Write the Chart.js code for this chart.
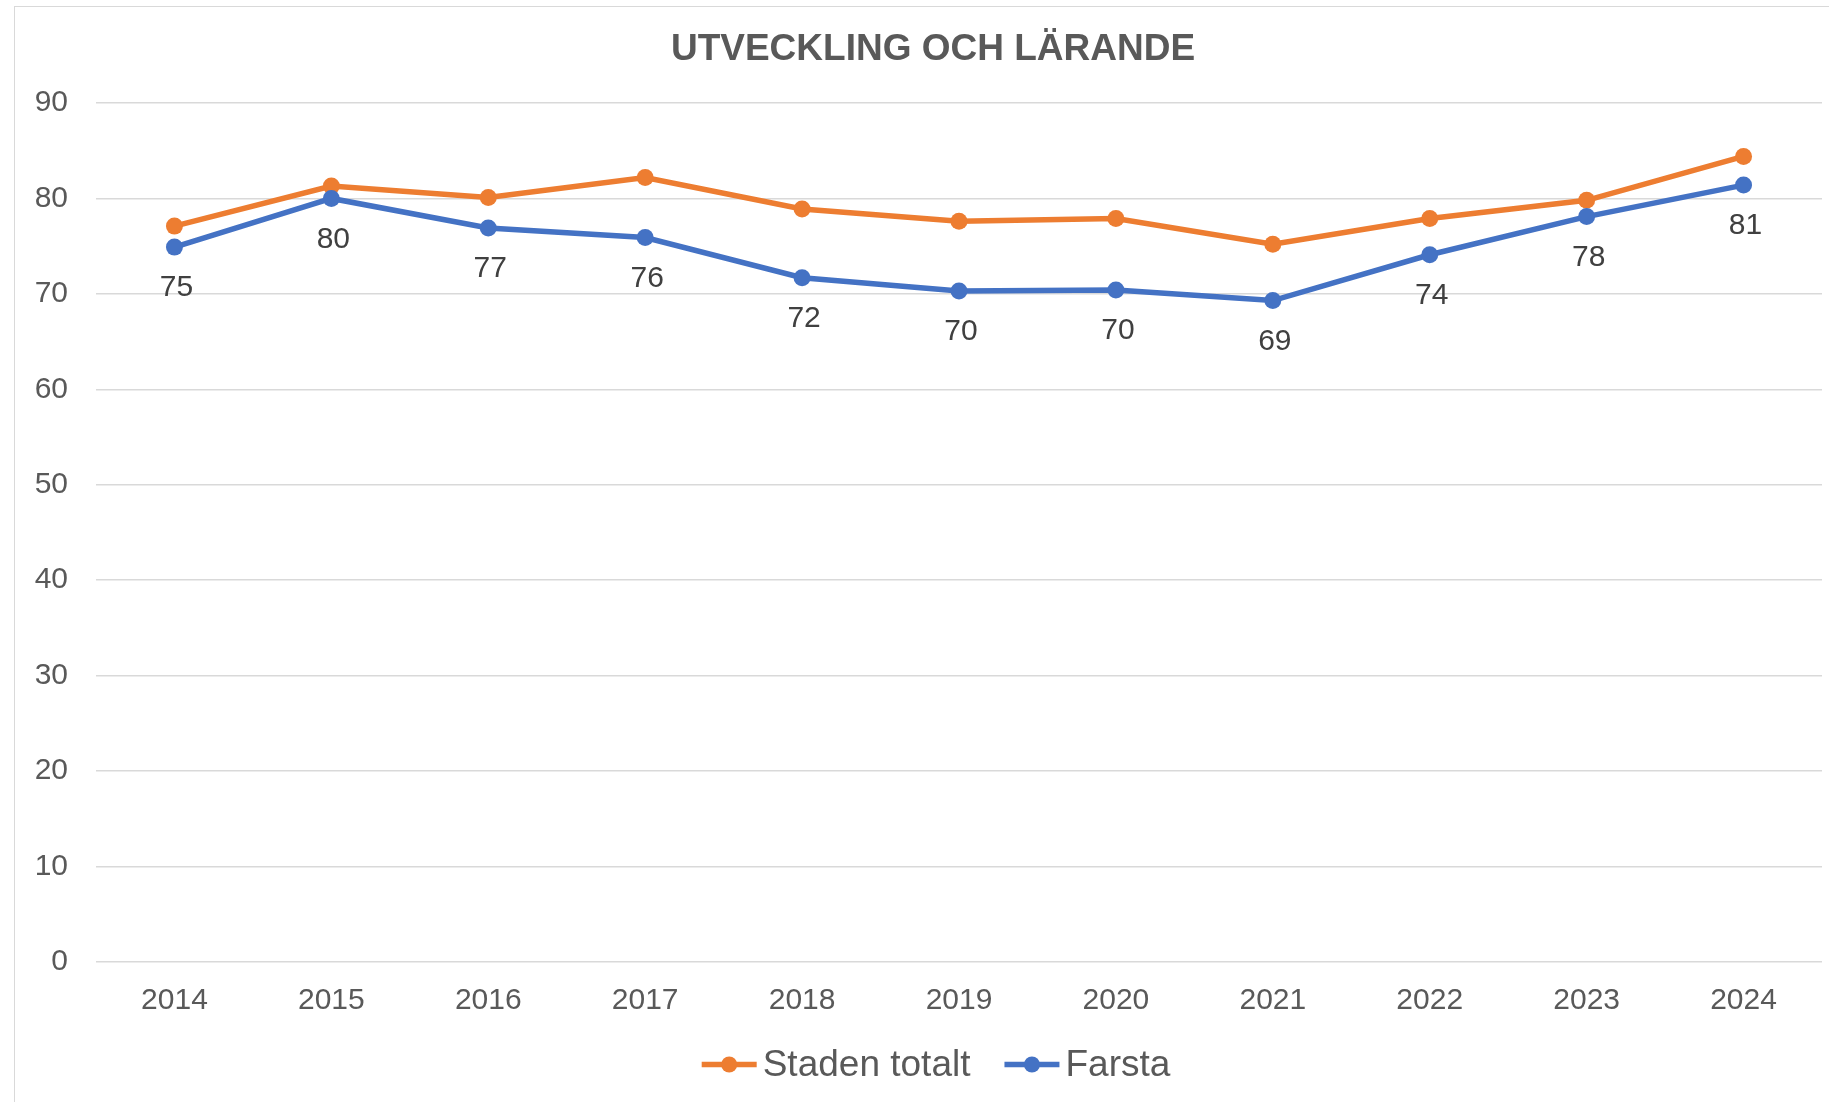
<!DOCTYPE html>
<html>
<head>
<meta charset="utf-8">
<script src="https://cdn.jsdelivr.net/npm/chart.js@4"></script>
<style>
    html, body { margin: 0; padding: 0; background: #fff; overflow: hidden; }
    body { width: 1829px; height: 1102px; position: relative; }
    .frame {
        position: absolute; left: 14px; top: 6px; width: 1900px; height: 1200px;
        border: 1.5px solid #d9d9d9; box-sizing: border-box;
    }
    .wrap { position: absolute; left: 0; top: 0; width: 1866px; height: 1102px; }
</style>
</head>
<body>
<div class="frame"></div>
<div class="wrap"><canvas id="chart" width="1866" height="1102"></canvas></div>
<script>
// Data
const years = ['2014', '2015', '2016', '2017', '2018', '2019', '2020', '2021', '2022', '2023', '2024'];
const stadenTotalt = [77.1, 81.3, 80.1, 82.2, 78.9, 77.6, 77.9, 75.2, 77.9, 79.8, 84.4];
const farsta = [74.9, 80.0, 76.9, 75.9, 71.7, 70.3, 70.4, 69.3, 74.1, 78.1, 81.4];
const yTicks = [0, 10, 20, 30, 40, 50, 60, 70, 80, 90];
const chartTitle = 'UTVECKLING OCH LÄRANDE';

const ORANGE = '#ed7d31';
const BLUE = '#4472c4';
const FONT = '"Liberation Sans", Arial, sans-serif';

// Title drawn by hand so it can sit a little right of the canvas centre
const titleText = {
    id: 'titleText',
    afterDraw(chart) {
        const ctx = chart.ctx;
        ctx.save();
        ctx.font = 'bold 37px ' + FONT;
        ctx.fillStyle = '#595959';
        ctx.textAlign = 'center';
        ctx.textBaseline = 'middle';
        ctx.fillText(chartTitle, (chart.chartArea.left + chart.chartArea.right) / 2 - 26, 50);
        ctx.restore();
    }
};

// Value labels under the Farsta points
const pointLabels = {
    id: 'pointLabels',
    afterDatasetsDraw(chart) {
        const ctx = chart.ctx;
        const meta = chart.getDatasetMeta(1);
        ctx.save();
        ctx.font = '30px ' + FONT;
        ctx.fillStyle = '#404040';
        ctx.textAlign = 'center';
        ctx.textBaseline = 'middle';
        meta.data.forEach(function(pt, i) {
            ctx.fillText(String(Math.round(farsta[i])), pt.x + 2, pt.y + 41);
        });
        ctx.restore();
    }
};

// Legend drawn by hand: short line with a dot, then the name
const lineLegend = {
    id: 'lineLegend',
    afterDraw(chart) {
        const ctx = chart.ctx;
        const items = chart.data.datasets.map(function(ds) {
            return { text: ds.label, color: ds.borderColor };
        });
        const lineW = 55, gap = 6, itemGap = 34;
        ctx.save();
        ctx.font = '37px ' + FONT;
        let total = 0;
        items.forEach(function(it, i) {
            it.w = ctx.measureText(it.text).width;
            total += lineW + gap + it.w + (i > 0 ? itemGap : 0);
        });
        const cx = (chart.chartArea.left + chart.chartArea.right) / 2 - 23;
        const y = chart.height - 37.5;
        let x = cx - total / 2;
        ctx.textBaseline = 'middle';
        ctx.textAlign = 'left';
        items.forEach(function(it) {
            ctx.strokeStyle = it.color;
            ctx.lineWidth = 5.5;
            ctx.beginPath();
            ctx.moveTo(x, y);
            ctx.lineTo(x + lineW, y);
            ctx.stroke();
            ctx.beginPath();
            ctx.arc(x + lineW / 2, y, 8, 0, Math.PI * 2);
            ctx.fillStyle = it.color;
            ctx.fill();
            ctx.fillStyle = '#595959';
            ctx.fillText(it.text, x + lineW + gap, y + 1);
            x += lineW + gap + it.w + itemGap;
        });
        ctx.restore();
    }
};

new Chart(document.getElementById('chart'), {
    type: 'line',
    data: {
        labels: years,
        datasets: [
            {
                label: 'Staden totalt',
                data: stadenTotalt,
                borderColor: ORANGE,
                backgroundColor: ORANGE,
                borderWidth: 5.5,
                pointRadius: 8.5,
                pointHoverRadius: 8.5,
                pointBorderWidth: 0,
                tension: 0,
                order: 1
            },
            {
                label: 'Farsta',
                data: farsta,
                borderColor: BLUE,
                backgroundColor: BLUE,
                borderWidth: 5.5,
                pointRadius: 8.5,
                pointHoverRadius: 8.5,
                pointBorderWidth: 0,
                tension: 0,
                order: 0
            }
        ]
    },
    options: {
        responsive: false,
        animation: false,
        layout: { padding: { left: 0, right: 44, top: 103, bottom: 66 } },
        plugins: {
            title: { display: false },
            legend: { display: false },
            tooltip: { enabled: false }
        },
        scales: {
            x: {
                offset: true,
                grid: { display: false, drawTicks: false },
                border: { display: false },
                ticks: {
                    color: '#595959',
                    font: { family: FONT, size: 30 },
                    padding: 21,
                    maxRotation: 0
                },
                afterFit: function(scale) { scale.height = 74; }
            },
            y: {
                min: 0,
                max: 90,
                afterBuildTicks: function(scale) {
                    scale.ticks = yTicks.map(function(v) { return { value: v }; });
                },
                grid: { color: '#d9d9d9', lineWidth: 1.5, drawTicks: false },
                border: { display: false },
                ticks: {
                    color: '#595959',
                    font: { family: FONT, size: 30 },
                    padding: 28
                },
                afterFit: function(scale) { scale.width = 96; }
            }
        }
    },
    plugins: [titleText, pointLabels, lineLegend]
});
</script>
</body>
</html>
